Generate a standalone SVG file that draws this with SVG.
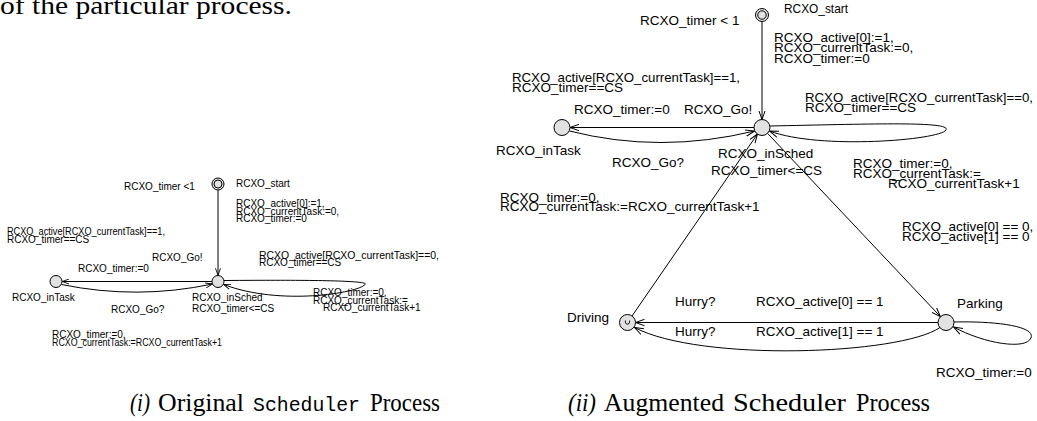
<svg xmlns="http://www.w3.org/2000/svg" width="1037" height="421" viewBox="0 0 1037 421">
<style>
.n{fill:#e2e2e2;stroke:#000;stroke-width:1}
.e{fill:none;stroke:#000;stroke-width:1}
.l{font-family:"Liberation Sans",Arial,sans-serif;font-size:10px;fill:#000}
.r{font-family:"Liberation Sans",Arial,sans-serif;font-size:13.5px;fill:#000}
.s{font-family:"Liberation Serif","Times New Roman",serif;font-size:25px;fill:#000}
.it{font-style:italic}
.m{font-family:"Liberation Mono","Courier New",monospace;font-size:20px;fill:#000}
</style>
<defs>
<marker id="as" markerUnits="userSpaceOnUse" markerWidth="8" markerHeight="6" refX="7" refY="3" orient="auto">
<path d="M0,0.5 L7,3 L0,5.5" fill="none" stroke="#000" stroke-width="0.9"/>
</marker>
<marker id="al" markerUnits="userSpaceOnUse" markerWidth="10" markerHeight="8" refX="9" refY="4" orient="auto">
<path d="M0,0.8 L9,4 L0,7.2" fill="none" stroke="#000" stroke-width="1"/>
</marker>
</defs>
<rect width="1037" height="421" fill="#fff"/>
<text class="s" x="0" y="14" style="font-size:26px" textLength="292" lengthAdjust="spacingAndGlyphs">of the particular process.</text>

<!-- Left diagram connectors -->
<g id="left-connectors">
<path class="e" d="M218,190 L218,275.3" marker-end="url(#as)"/>
<path class="e" d="M212,281.5 L62.2,281.5" marker-end="url(#as)"/>
<path class="e" d="M61.5,284.5 Q137,300 212.5,284" marker-end="url(#as)"/>
<path class="e" d="M224,280.5 C290,280 372,280 365,284.5 C358,293 280,306 223.7,284.5" marker-end="url(#as)"/>
<text class="l" x="124" y="190">RCXO_timer &lt;1</text>
<text class="l" x="236" y="207">RCXO_active[0]:=1,</text>
<text class="l" x="236" y="214.5">RCXO_currentTask:=0,</text>
<text class="l" x="236" y="222">RCXO_timer:=0</text>
<text class="l" x="7" y="235" textLength="158" lengthAdjust="spacingAndGlyphs">RCXO_active[RCXO_currentTask]==1,</text>
<text class="l" x="7" y="242.5">RCXO_timer==CS</text>
<text class="l" x="152" y="261">RCXO_Go!</text>
<text class="l" x="78" y="271.5">RCXO_timer:=0</text>
<text class="l" x="259" y="258.5" textLength="180" lengthAdjust="spacingAndGlyphs">RCXO_active[RCXO_currentTask]==0,</text>
<text class="l" x="259" y="266">RCXO_timer==CS</text>
<text class="l" x="111" y="313">RCXO_Go?</text>
<text class="l" x="313" y="296">RCXO_timer:=0,</text>
<text class="l" x="313" y="303.5">RCXO_currentTask:=</text>
<text class="l" x="323" y="311">RCXO_currentTask+1</text>
<text class="l" x="52" y="338">RCXO_timer:=0,</text>
<text class="l" x="52" y="345.5" textLength="170" lengthAdjust="spacingAndGlyphs">RCXO_currentTask:=RCXO_currentTask+1</text>
</g>

<g id="L_start">
<circle class="n" cx="218" cy="184" r="6"/>
<circle class="n" cx="218" cy="184" r="4"/>
<text class="l" x="236" y="187">RCXO_start</text>
</g>
<g id="L_inSched">
<circle class="n" cx="218" cy="281.5" r="6"/>
<text class="l" x="192" y="300.5">RCXO_inSched</text>
<text class="l" x="192" y="312">RCXO_timer&lt;=CS</text>
</g>
<g id="L_inTask">
<circle class="n" cx="56" cy="281.5" r="6"/>
<text class="l" x="12" y="300.5">RCXO_inTask</text>
</g>

<!-- Right diagram connectors -->
<g id="right-connectors">
<path class="e" d="M762,21.5 L762,119.5" marker-end="url(#al)"/>
<path class="e" d="M754,127.5 L570,127.5" marker-end="url(#al)"/>
<path class="e" d="M569.5,131 Q660,154 754.5,131" marker-end="url(#al)"/>
<path class="e" d="M770,126 C870,124 952,121 946,130 C940,140 820,150 769.5,131" marker-end="url(#al)"/>
<path class="e" d="M632,316 L757.5,134" marker-end="url(#al)"/>
<path class="e" d="M767.5,133.3 L940.5,316.7" marker-end="url(#al)"/>
<path class="e" d="M938,322.5 L635.5,322.5" marker-end="url(#al)"/>
<path class="e" d="M940,327.5 C900,355 700,362 634.5,327.5" marker-end="url(#al)"/>
<path class="e" d="M954,322 C995,321 1036,326 1031,338 C1026,350 985,344 953.5,327" marker-end="url(#al)"/>
<text class="r" x="640" y="25">RCXO_timer &lt; 1</text>
<text class="r" x="774" y="41.5">RCXO_active[0]:=1,</text>
<text class="r" x="774" y="52">RCXO_currentTask:=0,</text>
<text class="r" x="774" y="62.5">RCXO_timer:=0</text>
<text class="r" x="512" y="82" textLength="228" lengthAdjust="spacingAndGlyphs">RCXO_active[RCXO_currentTask]==1,</text>
<text class="r" x="512" y="91.5">RCXO_timer==CS</text>
<text class="r" x="574" y="114">RCXO_timer:=0</text>
<text class="r" x="684" y="114">RCXO_Go!</text>
<text class="r" x="805" y="102" textLength="228" lengthAdjust="spacingAndGlyphs">RCXO_active[RCXO_currentTask]==0,</text>
<text class="r" x="805" y="111.5">RCXO_timer==CS</text>
<text class="r" x="612" y="166.5">RCXO_Go?</text>
<text class="r" x="853" y="168">RCXO_timer:=0,</text>
<text class="r" x="853" y="177.5">RCXO_currentTask:=</text>
<text class="r" x="888" y="188">RCXO_currentTask+1</text>
<text class="r" x="500" y="201.5">RCXO_timer:=0,</text>
<text class="r" x="500" y="211">RCXO_currentTask:=RCXO_currentTask+1</text>
<text class="r" x="902" y="231">RCXO_active[0] == 0,</text>
<text class="r" x="902" y="240.5">RCXO_active[1] == 0</text>
<text class="r" x="675" y="306">Hurry?</text>
<text class="r" x="756" y="306">RCXO_active[0] == 1</text>
<text class="r" x="675" y="336">Hurry?</text>
<text class="r" x="756" y="336">RCXO_active[1] == 1</text>
<text class="r" x="936" y="377">RCXO_timer:=0</text>
</g>

<g id="R_start">
<circle class="n" cx="762" cy="15" r="6.5"/>
<circle class="n" cx="762" cy="15" r="4.2"/>
<text class="r" x="784" y="13" textLength="64" lengthAdjust="spacingAndGlyphs">RCXO_start</text>
</g>
<g id="R_inSched">
<circle class="n" cx="762" cy="127.5" r="8"/>
<text class="r" x="718" y="158">RCXO_inSched</text>
<text class="r" x="711" y="174.5">RCXO_timer&lt;=CS</text>
</g>
<g id="R_inTask">
<circle class="n" cx="562" cy="127.5" r="8"/>
<text class="r" x="496" y="154.5">RCXO_inTask</text>
</g>
<g id="R_Driving">
<circle class="n" cx="627.5" cy="322.5" r="8"/>
<path d="M625.4,320.5 v1.6 a2.1,2.1 0 0 0 4.2,0 v-1.6" fill="none" stroke="#000" stroke-width="0.9"/>
<text class="r" x="567" y="321.5">Driving</text>
</g>
<g id="R_Parking">
<circle class="n" cx="946" cy="322.5" r="8"/>
<text class="r" x="957" y="308">Parking</text>
</g>

<!-- Captions -->
<g id="captions">
<text class="s it" x="130" y="411" textLength="20" lengthAdjust="spacingAndGlyphs">(i)</text>
<text class="s" x="158" y="411" textLength="86" lengthAdjust="spacingAndGlyphs">Original</text>
<text class="m" x="253" y="411" textLength="107" lengthAdjust="spacingAndGlyphs">Scheduler</text>
<text class="s" x="370" y="411" textLength="70" lengthAdjust="spacingAndGlyphs">Process</text>
<text class="s it" x="568" y="411" textLength="28" lengthAdjust="spacingAndGlyphs">(ii)</text>
<text class="s" x="604" y="411" textLength="120" lengthAdjust="spacingAndGlyphs">Augmented</text>
<text class="s" x="733" y="411" textLength="113" lengthAdjust="spacingAndGlyphs">Scheduler</text>
<text class="s" x="856" y="411" textLength="74" lengthAdjust="spacingAndGlyphs">Process</text>
</g>
</svg>
